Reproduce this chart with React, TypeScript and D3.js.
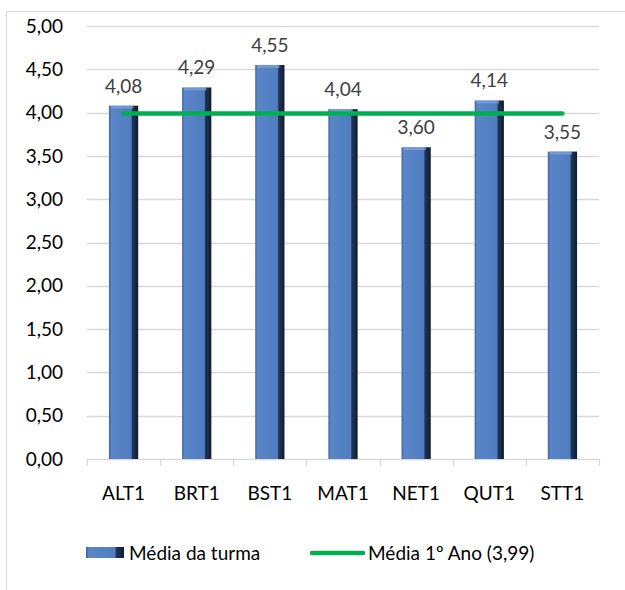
import React from "react";
import * as d3 from "d3";

const categories = ["ALT1", "BRT1", "BST1", "MAT1", "NET1", "QUT1", "STT1"];
const turmaValues = [4.08, 4.29, 4.55, 4.04, 3.6, 4.14, 3.55];
const anoMean = 3.99;
const yTicks = [0, 0.5, 1, 1.5, 2, 2.5, 3, 3.5, 4, 4.5, 5];
const legendLabels = ["Média da turma", "Média 1º Ano (3,99)"];

const W = 625, H = 590;
const left = 87, right = 599, top = 26, bottom = 459;
const font = "Lato, 'Open Sans', sans-serif";
const fs = 19;
const fmt = (v: number) => v.toFixed(2).replace(".", ",");

export default function App() {
  const x = d3.scaleBand<string>().domain(categories).range([left, right]).paddingInner(0.6).paddingOuter(0.3);
  const xc = d3.scaleBand<string>().domain(categories).range([left, right]);
  const y = d3.scaleLinear().domain([0, 5]).range([bottom, top]);
  const bw = x.bandwidth();
  const lineY = y(anoMean);
  const first = xc(categories[0])! + xc.bandwidth() / 2;
  const last = xc(categories[categories.length - 1])! + xc.bandwidth() / 2;

  return (
    <svg width={W} height={H} style={{ position: "absolute", left: 0, top: 0, background: "#fff" }}>
      <defs>
        <linearGradient id="barG" x1="0" x2="1" y1="0" y2="0">
          <stop offset="0" stopColor="#3b62a0" />
          <stop offset="0.08" stopColor="#5a86c8" />
          <stop offset="0.76" stopColor="#4f7dc0" />
          <stop offset="0.8" stopColor="#1f3658" />
          <stop offset="1" stopColor="#111c2e" />
        </linearGradient>
      </defs>
      <line x1={6.5} x2={W} y1={11.5} y2={11.5} stroke="#d9d9d9" />
      <line x1={6.5} x2={6.5} y1={11.5} y2={H} stroke="#d9d9d9" />
      {yTicks.map((t) => (
        <line key={t} x1={left} x2={right} y1={Math.round(y(t)) + 0.5} y2={Math.round(y(t)) + 0.5} stroke="#d9d9d9" strokeWidth={1.3} />
      ))}
      {d3.range(categories.length + 1).map((i) => {
        const xx = Math.round(left + i * xc.step()) + 0.5;
        return <line key={i} x1={xx} x2={xx} y1={bottom} y2={bottom + 7} stroke="#d9d9d9" strokeWidth={1.3} />;
      })}
      {yTicks.map((t) => (
        <text key={t} x={63} y={y(t)} dy="0.35em" textAnchor="end" fontFamily={font} fontSize={fs} fill="#000">
          {fmt(t)}
        </text>
      ))}
      {categories.map((c, i) => {
        const bx = x(c)!;
        const by = y(turmaValues[i]);
        return (
          <g key={c}>
            <rect x={bx} y={by} width={bw} height={bottom - by} fill="url(#barG)" />
            <rect x={bx + 2} y={by} width={bw - 7} height={3} fill="#7fa3d8" opacity={0.7} />
            <text x={bx + bw / 2} y={by - 13} textAnchor="middle" fontFamily={font} fontSize={fs} fill="#404040">
              {fmt(turmaValues[i])}
            </text>
          </g>
        );
      })}
      <line x1={first} x2={last} y1={lineY} y2={lineY} stroke="#00b050" strokeWidth={4.5} strokeLinecap="round" />
      {categories.map((c) => (
        <text key={c} x={xc(c)! + xc.bandwidth() / 2} y={493} dy="0.35em" textAnchor="middle" fontFamily={font} fontSize={fs} fill="#000">
          {c}
        </text>
      ))}
      <rect x={86} y={547} width={38} height={11} fill="url(#barG)" />
      <text x={129} y={553} dy="0.35em" fontFamily={font} fontSize={fs} fill="#000">{legendLabels[0]}</text>
      <line x1={312} x2={363} y1={553} y2={553} stroke="#00b050" strokeWidth={4.5} strokeLinecap="round" />
      <text x={368} y={553} dy="0.35em" fontFamily={font} fontSize={fs} fill="#000">{legendLabels[1]}</text>
    </svg>
  );
}
